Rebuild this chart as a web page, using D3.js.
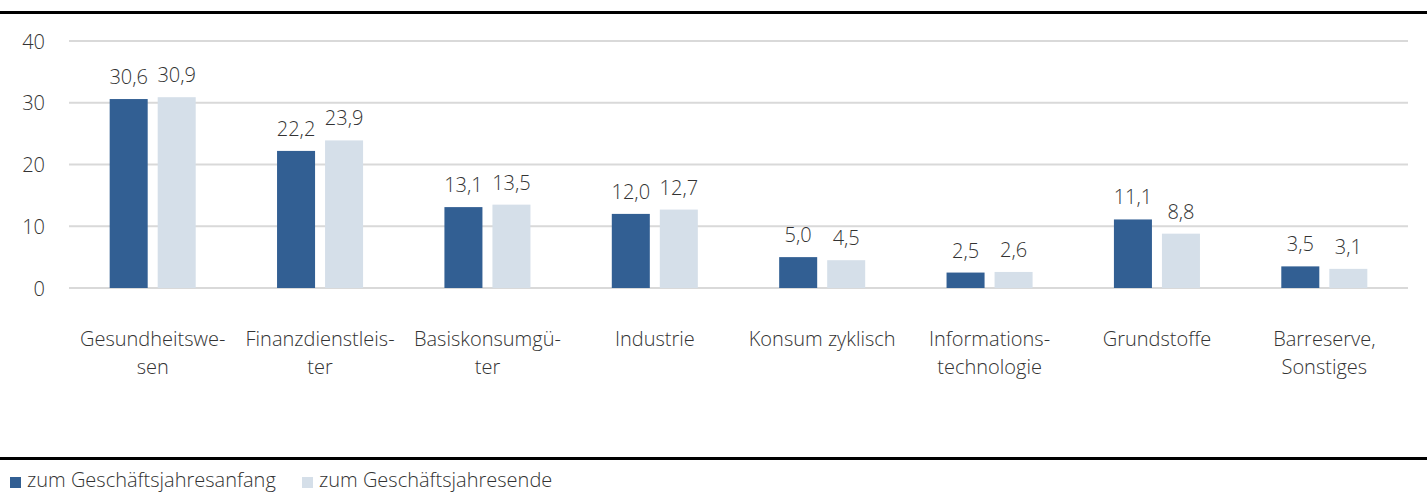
<!DOCTYPE html>
<meta charset="utf-8">
<style>
    body {
        margin: 0;
        background: #fff;
        font-family: "Open Sans", sans-serif;
    }
    text {
        fill: #333;
        font-weight: 300;
    }
</style>
<body>
<script src="https://d3js.org/d3.v7.min.js"></script>
<script>
    // data
    const categories = [
        ["Gesundheitswe-", "sen"],
        ["Finanzdienstleis-", "ter"],
        ["Basiskonsumgü-", "ter"],
        ["Industrie"],
        ["Konsum zyklisch"],
        ["Informations-", "technologie"],
        ["Grundstoffe"],
        ["Barreserve,", "Sonstiges"]
    ]
    const seriesNames = ["zum Geschäftsjahresanfang", "zum Geschäftsjahresende"]
    const startValues = [30.6, 22.2, 13.1, 12.0, 5.0, 2.5, 11.1, 3.5]
    const endValues = [30.9, 23.9, 13.5, 12.7, 4.5, 2.6, 8.8, 3.1]
    const yTicks = [0, 10, 20, 30, 40]
    const colors = ["#325f93", "#d5dfe9"]

    const W = 1427, H = 492
    const plotLeft = 69, plotRight = 1408, plotTop = 41, plotBase = 288

    const svg = d3.select("body").append("svg")
        .attr("width", W)
        .attr("height", H)

    const keys = categories.map((d, i) => i)

    let x0 = d3.scaleBand()
        .domain(keys)
        .range([plotLeft, plotRight])
        .paddingInner(0.486)
        .paddingOuter(0.243)

    let x1 = d3.scaleBand()
        .domain([0, 1])
        .range([0, x0.bandwidth()])
        .paddingInner(0.2083)

    let y = d3.scaleLinear()
        .domain([0, 40])
        .range([plotBase, plotTop])

    // gridlines
    svg.append("g")
        .selectAll("line")
        .data(yTicks)
        .join("line")
        .attr("x1", plotLeft)
        .attr("x2", plotRight)
        .attr("y1", d => y(d))
        .attr("y2", d => y(d))
        .attr("stroke", "#d9d9d9")
        .attr("stroke-width", 2)

    // y axis labels
    const yAxis = svg.append("g")
        .attr("transform", "translate(" + (plotLeft - 24) + ",0)")
        .call(d3.axisLeft(y).tickValues(yTicks).tickSize(0).tickPadding(0).tickFormat(d3.format("d")))
    yAxis.select(".domain").remove()
    yAxis.selectAll("text")
        .attr("font-family", "Open Sans")
        .attr("font-size", 20)
        .attr("dy", "0.36em")
        .style("fill", "#333")

    const rows = keys.map(i => ({i, vals: [startValues[i], endValues[i]]}))
    const fmt = v => d3.format(".1f")(v).replace(".", ",")

    const groups = svg.append("g")
        .selectAll("g")
        .data(rows)
        .join("g")
        .attr("transform", d => "translate(" + x0(d.i) + ",0)")

    groups.selectAll("rect")
        .data(d => d.vals.map((v, s) => ({v, s})))
        .join("rect")
        .attr("x", d => x1(d.s))
        .attr("width", x1.bandwidth())
        .attr("y", d => y(d.v))
        .attr("height", d => y(0) - y(d.v))
        .attr("fill", d => colors[d.s])

    groups.selectAll("text.val")
        .data(d => d.vals.map((v, s) => ({v, s})))
        .join("text")
        .attr("class", "val")
        .attr("x", d => x1(d.s) + x1.bandwidth() / 2)
        .attr("y", d => y(d.v) - 15)
        .attr("text-anchor", "middle")
        .attr("font-size", 20)
        .text(d => fmt(d.v))

    // category labels
    svg.append("g")
        .selectAll("text")
        .data(keys)
        .join("text")
        .attr("x", i => x0(i) + x0.bandwidth() / 2)
        .attr("y", 346)
        .attr("text-anchor", "middle")
        .attr("font-size", 20)
        .selectAll("tspan")
        .data(i => categories[i])
        .join("tspan")
        .attr("x", function () { return d3.select(this.parentNode).attr("x") })
        .attr("dy", (d, j) => j === 0 ? 0 : 28)
        .text(d => d)

    // black rules
    svg.append("line")
        .attr("x1", 0).attr("x2", W)
        .attr("y1", 12.5).attr("y2", 12.5)
        .attr("stroke", "#000").attr("stroke-width", 3)
    svg.append("line")
        .attr("x1", 0).attr("x2", W)
        .attr("y1", 458.5).attr("y2", 458.5)
        .attr("stroke", "#000").attr("stroke-width", 3)

    // legend
    const legendX = [10, 302]
    const legend = svg.append("g")
        .selectAll("g")
        .data(seriesNames)
        .join("g")
        .attr("transform", (d, i) => "translate(" + legendX[i] + ",477)")
    legend.append("rect")
        .attr("width", 11)
        .attr("height", 11)
        .attr("fill", (d, i) => colors[i])
    legend.append("text")
        .attr("x", 17)
        .attr("y", 10)
        .attr("font-size", 20)
        .text(d => d)
</script>
